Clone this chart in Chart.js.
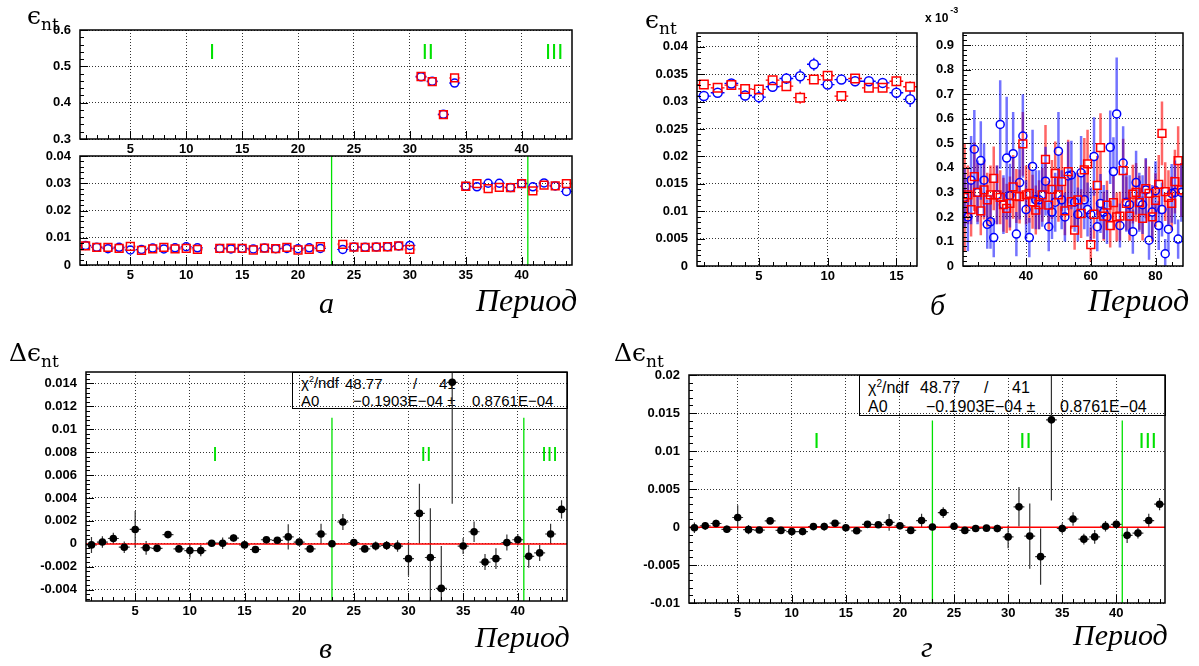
<!DOCTYPE html>
<html>
<head>
<meta charset="utf-8">
<script src="https://cdn.jsdelivr.net/npm/chart.js@4"></script>
<style>
  body { margin: 0; background: #fff; }
  #wrap { position: relative; width: 1199px; height: 666px; overflow: hidden; }
  canvas { position: absolute; left: 0; top: 0; }
  .t { position: absolute; color: #000; white-space: nowrap; line-height: 1; }
  .eps { font-family: "DejaVu Serif", "Liberation Serif", serif; font-size: 25px; }
  .eps .s { font-size: 17px; position: relative; top: 6px; }
  .per { font-family: "Liberation Serif", serif; font-style: italic; }
  .stat { position: absolute; border: 1.5px solid #000; box-sizing: border-box; font-family: "Liberation Sans", Arial, sans-serif; }
  .stat span { position: absolute; white-space: nowrap; line-height: 1; }
  .exp { font-family: "Liberation Sans", Arial, sans-serif; font-weight: bold; }
</style>
</head>
<body>
<div id="wrap">
  <div class="stat" style="left:292px;top:372px;width:276px;height:37px;font-size:15px">
    <span style="left:8px;top:2px">χ<sup style="font-size:9px">2</sup>/ndf</span>
    <span style="left:52px;top:3px">48.77</span>
    <span style="left:120px;top:3px">/</span>
    <span style="left:146px;top:3px">41</span>
    <span style="left:8px;top:20px">A0</span>
    <span style="left:60px;top:20px">−0.1903E−04 ±</span>
    <span style="left:179px;top:20px">0.8761E−04</span>
  </div>
  <div class="stat" style="left:859px;top:375px;width:307px;height:41px;font-size:16px">
    <span style="left:8px;top:3px">χ<sup style="font-size:10px">2</sup>/ndf</span>
    <span style="left:60px;top:4px">48.77</span>
    <span style="left:124px;top:4px">/</span>
    <span style="left:152px;top:4px">41</span>
    <span style="left:8px;top:23px">A0</span>
    <span style="left:66px;top:23px">−0.1903E−04 ±</span>
    <span style="left:200px;top:23px">0.8761E−04</span>
  </div>
  <canvas id="cA1" width="1199" height="666"></canvas>
  <canvas id="cA2" width="1199" height="666"></canvas>
  <canvas id="cB1" width="1199" height="666"></canvas>
  <canvas id="cB2" width="1199" height="666"></canvas>
  <canvas id="cC" width="1199" height="666"></canvas>
  <canvas id="cD" width="1199" height="666"></canvas>

  <div class="t eps" style="left:27px;top:3px">ϵ<span class="s">nt</span></div>
  <div class="t eps" style="left:645px;top:7px">ϵ<span class="s">nt</span></div>
  <div class="t eps" style="left:9px;top:340px">Δϵ<span class="s">nt</span></div>
  <div class="t eps" style="left:614px;top:340px">Δϵ<span class="s">nt</span></div>

  <div class="t exp" style="left:925px;top:12px;font-size:12px">x 10<span style="font-size:9px;position:relative;top:-9px;margin-left:2px">-3</span></div>

  <div class="t per" style="left:476px;top:284px;font-size:32px">Период</div>
  <div class="t per" style="left:1088px;top:284px;font-size:32px">Период</div>
  <div class="t per" style="left:475px;top:622px;font-size:30px">Период</div>
  <div class="t per" style="left:1073px;top:620px;font-size:30px">Период</div>

  <div class="t per" style="left:319px;top:288px;font-size:30px">а</div>
  <div class="t per" style="left:930px;top:290px;font-size:30px">б</div>
  <div class="t per" style="left:319px;top:633px;font-size:30px">в</div>
  <div class="t per" style="left:921px;top:632px;font-size:30px">г</div>
</div>

<script>
// ---- data ----
const periods44 = [1,2,3,4,5,6,7,8,9,10,11,12,13,14,15,16,17,18,19,20,21,22,23,24,25,26,27,28,29,30,31,32,33,34,35,36,37,38,39,40,41,42,43,44];
const periodsB1 = [1,2,3,4,5,6,7,8,9,10,11,12,13,14,15,16];
const periodsB2 = [21,22,23,24,25,26,27,28,29,30,31,32,33,34,35,36,37,38,39,40,41,42,43,44,45,46,47,48,49,50,51,52,53,54,55,56,57,58,59,60,61,62,63,64,65,66,67,68,69,70,71,72,73,74,75,76,77,78,79,80,81,82,83,84,85,86,87,88];

// panel a: efficiency per period (circles / squares)
const effACirc = [0.0072,0.0065,0.0060,0.0065,0.0055,0.0057,0.0062,0.0059,0.0063,0.0067,0.0063,null,0.0061,0.0059,0.0061,0.0059,0.0062,0.0060,0.0061,0.0060,0.0063,0.0061,null,0.0057,0.0066,0.0065,0.0066,0.0067,0.0070,0.0072,0.471,0.459,0.368,0.454,0.0289,0.0287,0.0300,0.0300,0.0284,0.0299,0.0287,0.0301,0.0290,0.0270];
const effASq   = [0.0070,0.0065,0.0065,0.0061,0.0068,0.0054,0.0059,0.0065,0.0059,0.0061,0.0057,null,0.0061,0.0062,0.0061,0.0055,0.0062,0.0060,0.0065,0.0055,0.0057,0.0067,null,0.0076,0.0066,0.0065,0.0066,0.0067,0.0070,0.0057,0.472,0.458,0.367,0.468,0.0289,0.0299,0.0280,0.0285,0.0284,0.0299,0.0272,0.0293,0.0290,0.0299];
const errACirc = [0.0003,0.0003,0.0003,0.0003,0.0003,0.0003,0.0003,0.0003,0.0003,0.0003,0.0003,0,0.0003,0.0003,0.0003,0.0003,0.0003,0.0003,0.0003,0.0003,0.0003,0.0003,0,0.0003,0.0003,0.0003,0.0003,0.0003,0.0003,0.0003,0.003,0.003,0.003,0.004,0.0005,0.0005,0.0005,0.0005,0.0005,0.0005,0.0005,0.0005,0.0005,0.0005];
const errASq   = [0.0003,0.0003,0.0003,0.0003,0.0003,0.0003,0.0003,0.0003,0.0003,0.0003,0.0003,0,0.0003,0.0003,0.0003,0.0003,0.0003,0.0003,0.0003,0.0003,0.0003,0.0003,0,0.0004,0.0003,0.0003,0.0003,0.0003,0.0003,0.0003,0.003,0.003,0.003,0.004,0.0005,0.0005,0.0005,0.0005,0.0005,0.0005,0.0005,0.0005,0.0005,0.0005];

// panel б, left part
const effB1Circ = [0.0310,0.0316,0.0333,0.0311,0.0308,0.0327,0.0342,0.0346,0.0368,0.0331,0.0340,0.0337,0.0337,0.0334,0.0316,0.0304];
const effB1Sq   = [0.0331,0.0325,0.0330,0.0323,0.0322,0.0339,0.0328,0.0307,0.0340,0.0347,0.0310,0.0342,0.0325,0.0325,0.0337,0.0327];
const errB1Circ = [0.0006,0.0008,0.0008,0.0009,0.0011,0.0009,0.0010,0.0013,0.0012,0.0008,0.0008,0.0009,0.0007,0.0008,0.0011,0.0014];
const errB1Sq   = [0.0007,0.0007,0.0006,0.0008,0.0008,0.0008,0.0009,0.0011,0.0008,0.0007,0.0004,0.0006,0.0006,0.0007,0.0009,0.0010];

// panel б, right part (units of 1e-3)
const effB2Circ = [0.28,0.20,0.35,0.476,0.30,0.43,0.35,0.17,0.18,0.116,
  0.29,0.577,0.25,0.44,0.287,0.458,0.13,0.34,0.53,0.23,
  0.116,0.406,0.27,0.27,0.29,0.346,0.16,0.22,0.26,0.468,
  0.27,0.20,0.367,0.371,0.26,0.21,0.38,0.27,0.23,0.21,
  0.446,0.16,0.255,0.22,0.20,0.484,0.385,0.62,0.165,0.42,
  0.26,0.25,0.14,0.34,0.26,0.25,0.31,0.105,0.22,0.307,
  0.165,0.23,0.05,0.15,0.296,0.30,0.11,0.30];
const errB2Circ = [0.12,0.14,0.18,0.16,0.13,0.16,0.15,0.10,0.11,0.08,
  0.12,0.18,0.12,0.25,0.13,0.17,0.09,0.15,0.17,0.12,
  0.08,0.15,0.12,0.12,0.13,0.14,0.10,0.11,0.12,0.16,
  0.12,0.10,0.14,0.14,0.12,0.11,0.15,0.12,0.11,0.11,
  0.16,0.10,0.12,0.11,0.11,0.15,0.14,0.23,0.09,0.15,
  0.12,0.12,0.09,0.13,0.12,0.12,0.13,0.08,0.11,0.12,
  0.10,0.11,0.06,0.09,0.12,0.13,0.08,0.12];
const effB2Sq = [0.28,0.29,0.23,0.364,0.30,0.225,0.31,0.27,0.29,0.357,
  0.29,0.28,0.25,0.235,0.255,0.323,0.285,0.283,0.498,0.29,
  0.296,0.262,0.228,0.25,0.29,0.435,0.248,0.312,0.378,0.29,
  0.344,0.225,0.385,0.262,0.146,0.27,0.214,0.392,0.416,0.087,
  0.211,0.329,0.483,0.203,0.248,0.165,0.258,0.20,0.203,0.389,
  0.255,0.203,0.293,0.30,0.258,0.194,0.315,0.296,0.20,0.268,
  0.333,0.541,0.303,0.28,0.255,0.344,0.43,0.31];
const errB2Sq = [0.22,0.12,0.11,0.14,0.12,0.10,0.12,0.11,0.12,0.13,
  0.12,0.11,0.11,0.10,0.11,0.13,0.11,0.11,0.13,0.12,
  0.12,0.11,0.10,0.10,0.11,0.14,0.10,0.12,0.13,0.11,
  0.12,0.10,0.13,0.11,0.08,0.11,0.10,0.13,0.14,0.07,
  0.10,0.12,0.14,0.10,0.10,0.09,0.11,0.10,0.10,0.13,
  0.11,0.10,0.12,0.12,0.11,0.09,0.12,0.11,0.10,0.11,
  0.12,0.13,0.12,0.11,0.11,0.13,0.14,0.11];

// panels в and г: difference
const deltaEff = [-0.0001,0.00015,0.00046,-0.0003,0.00125,-0.00035,-0.0004,0.0008,-0.00045,-0.0006,-0.0006,0.00005,0.00005,0.0005,-0.0001,-0.0005,0.00035,0.0003,0.0006,0.00015,-0.00045,0.00085,0.0,0.0019,0.0001,-0.00045,-0.0002,-0.00015,-0.0002,-0.0013,0.00265,-0.0012,-0.0039,0.0141,-0.0002,0.00105,-0.0016,-0.0013,0.0001,0.00035,-0.0011,-0.0008,0.00085,0.003];
const deltaErr = [0.0007,0.0005,0.0005,0.0005,0.0016,0.0006,0.0003,0.0003,0.0003,0.0006,0.0005,0.0002,0.0005,0.0003,0.0003,0.0003,0.0002,0.0002,0.0011,0.0003,0.0003,0.0009,0.0001,0.0007,0.0003,0.0003,0.0004,0.0004,0.0005,0.0015,0.0026,0.0043,0.0037,0.0106,0.0007,0.0009,0.0007,0.0009,0.0007,0.0005,0.001,0.0007,0.0009,0.0008];
const fitA0 = -0.1903e-4;

// period boundaries and labels
const boundaries = [23, 40.55];
const romanText = ["I", "II", "III"];
const romanX = [12.3, 31.6, 42.9];

// tick labels
const ticksX44 = [5, 10, 15, 20, 25, 30, 35, 40];
const ticksA1Y = [0.3, 0.4, 0.5, 0.6];
const ticksA2Y = [0, 0.01, 0.02, 0.03, 0.04];
const ticksB1X = [5, 10, 15];
const ticksB1Y = [0, 0.005, 0.01, 0.015, 0.02, 0.025, 0.03, 0.035, 0.04];
const ticksB2X = [40, 60, 80];
const ticksB2Y = [0, 0.1, 0.2, 0.3, 0.4, 0.5, 0.6, 0.7, 0.8, 0.9];
const ticksCY = [-0.004, -0.002, 0, 0.002, 0.004, 0.006, 0.008, 0.01, 0.012, 0.014];
const ticksDY = [-0.01, -0.005, 0, 0.005, 0.01, 0.015, 0.02];

const GREEN = "rgb(0,225,0)";

// ---- plugins ----
const errorBars = {
  id: "errorBars",
  beforeDatasetsDraw(chart) {
    const { ctx, chartArea: a, scales: { x, y } } = chart;
    ctx.save();
    ctx.beginPath();
    ctx.rect(a.left, a.top, a.width, a.height);
    ctx.clip();
    chart.data.datasets.forEach(ds => {
      if (!ds.errY) return;
      ctx.strokeStyle = ds.errColor;
      ctx.lineWidth = ds.errWidth;
      ctx.beginPath();
      ds.data.forEach((p, i) => {
        if (p.y == null) return;
        const px = x.getPixelForValue(p.x), py = y.getPixelForValue(p.y);
        const gap = ds.errGap;
        const top = y.getPixelForValue(p.y + ds.errY[i]);
        const bot = y.getPixelForValue(p.y - ds.errY[i]);
        const l = x.getPixelForValue(p.x - ds.errX);
        const r = x.getPixelForValue(p.x + ds.errX);
        if (py - top > gap) { ctx.moveTo(px, top); ctx.lineTo(px, py - gap); }
        if (bot - py > gap) { ctx.moveTo(px, py + gap); ctx.lineTo(px, bot); }
        if (px - l > gap) { ctx.moveTo(l, py); ctx.lineTo(px - gap, py); }
        if (r - px > gap) { ctx.moveTo(px + gap, py); ctx.lineTo(r, py); }
      });
      ctx.stroke();
    });
    ctx.restore();
  }
};

const marks = {
  id: "marks",
  beforeDatasetsDraw(chart, args, opts) {
    const { ctx, chartArea: a, scales: { x, y } } = chart;
    ctx.save();
    if (opts.lines) {
      ctx.strokeStyle = GREEN;
      ctx.lineWidth = 1.3;
      ctx.beginPath();
      opts.lines.forEach(v => {
        const px = x.getPixelForValue(v);
        const top = opts.lineTop == null ? a.top : y.getPixelForValue(opts.lineTop);
        ctx.moveTo(px, top);
        ctx.lineTo(px, a.bottom);
      });
      ctx.stroke();
    }
    if (opts.roman) {
      ctx.fillStyle = GREEN;
      ctx.font = opts.romanSize + "px 'Liberation Sans', Arial, sans-serif";
      ctx.textAlign = "center";
      ctx.textBaseline = "middle";
      romanText.forEach((t, i) => {
        ctx.fillText(t, x.getPixelForValue(romanX[i]), y.getPixelForValue(opts.romanY));
      });
    }
    ctx.restore();
  }
};

const rootFrame = {
  id: "rootFrame",
  afterDraw(chart, args, opts) {
    const { ctx, chartArea: a, scales: { x, y } } = chart;
    ctx.save();
    ctx.strokeStyle = "#000";
    ctx.lineWidth = 1;
    ctx.beginPath();
    const isMajor = (s, v) => s.ticks.some(t => Math.abs(t.value - v) < 1e-9);
    for (let n = Math.ceil(x.min / opts.xMinor - 1e-9); n * opts.xMinor <= x.max + 1e-9; n++) {
      const v = n * opts.xMinor;
      const px = Math.round(x.getPixelForValue(v)) + 0.5;
      ctx.moveTo(px, a.bottom);
      ctx.lineTo(px, a.bottom - (isMajor(x, v) ? 8 : 4));
    }
    for (let n = Math.ceil(y.min / opts.yMinor - 1e-9); n * opts.yMinor <= y.max + 1e-9; n++) {
      const v = n * opts.yMinor;
      const py = Math.round(y.getPixelForValue(v)) + 0.5;
      ctx.moveTo(a.left, py);
      ctx.lineTo(a.left + (isMajor(y, v) ? 8 : 4), py);
    }
    ctx.stroke();
    ctx.lineWidth = 1.5;
    ctx.strokeRect(a.left, a.top, a.width, a.height);
    ctx.restore();
  }
};

// ---- helpers ----
function axis(pos, min, max, ticks, size) {
  return {
    type: "linear",
    position: pos,
    min: min,
    max: max,
    afterBuildTicks: s => { s.ticks = ticks.map(v => ({ value: v })); },
    afterFit: s => { if (pos === "left") s.width = size; else s.height = size; },
    grid: { color: "rgba(0,0,0,0.8)", lineWidth: 1, drawTicks: false },
    border: { display: false, dash: [1, 2] },
    ticks: {
      padding: pos === "left" ? 9 : 3,
      color: "#000",
      autoSkip: false,
      maxRotation: 0,
      font: { family: "'Liberation Sans', Arial, sans-serif", weight: "bold", size: 13 },
      callback: v => String(v)
    }
  };
}

function pts(xs, ys) {
  return xs.map((p, i) => ({ x: p, y: ys[i] }));
}

function circles(xs, ys, errs, color, errColor, r, errW) {
  return {
    data: pts(xs, ys), pointStyle: "circle", pointRadius: r, borderColor: color,
    backgroundColor: "rgba(0,0,0,0)", pointBorderWidth: 1.5,
    errY: errs, errX: 0.5, errColor: errColor, errWidth: errW, errGap: r
  };
}

function squares(xs, ys, errs, color, errColor, r, errW) {
  return {
    data: pts(xs, ys), pointStyle: "rect", pointRadius: r, borderColor: color,
    backgroundColor: "rgba(0,0,0,0)", pointBorderWidth: 1.5,
    errY: errs, errX: 0.5, errColor: errColor, errWidth: errW, errGap: r * 0.72
  };
}

function makeChart(id, datasets, xAx, yAx, pad, plug) {
  return new Chart(document.getElementById(id), {
    type: "scatter",
    data: { datasets: datasets },
    options: {
      responsive: false,
      animation: false,
      devicePixelRatio: 1,
      layout: { padding: pad },
      plugins: Object.assign({ legend: { display: false }, tooltip: { enabled: false } }, plug),
      scales: { x: xAx, y: yAx }
    },
    plugins: [errorBars, marks, rootFrame]
  });
}

function fitLine(x0, x1) {
  return {
    type: "line", data: [{ x: x0, y: fitA0 }, { x: x1, y: fitA0 }],
    borderColor: "#f00", borderWidth: 1.5, pointRadius: 0, showLine: true
  };
}

function diffPoints() {
  return {
    data: pts(periods44, deltaEff), pointStyle: "circle", pointRadius: 3.8,
    backgroundColor: "#000", borderColor: "#000", pointBorderWidth: 0,
    errY: deltaErr, errX: 0.5, errColor: "#333", errWidth: 1.2, errGap: 0
  };
}

// ---- panel а (top and bottom) ----
makeChart("cA1",
  [squares(periods44, effASq, errASq, "#f00", "rgba(255,60,60,0.55)", 5.5, 2),
   circles(periods44, effACirc, errACirc, "#00f", "#00f", 4, 1)],
  axis("bottom", 0.5, 44.5, ticksX44, 20),
  axis("left", 0.3, 0.6, ticksA1Y, 45),
  { left: 35, top: 30, right: 627, bottom: 507 },
  { marks: { roman: true, romanY: 0.538, romanSize: 22 }, rootFrame: { xMinor: 1, yMinor: 0.02 } });

makeChart("cA2",
  [squares(periods44, effASq, errASq, "#f00", "rgba(255,60,60,0.55)", 5.5, 2),
   circles(periods44, effACirc, errACirc, "#00f", "#00f", 4, 1)],
  axis("bottom", 0.5, 44.5, ticksX44, 20),
  axis("left", 0, 0.04, ticksA2Y, 45),
  { left: 35, top: 156, right: 627, bottom: 381 },
  { marks: { lines: boundaries, lineTop: null }, rootFrame: { xMinor: 1, yMinor: 0.002 } });

// ---- panel б ----
makeChart("cB1",
  [squares(periodsB1, effB1Sq, errB1Sq, "#f00", "#f00", 6, 1.3),
   circles(periodsB1, effB1Circ, errB1Circ, "#00f", "#00f", 4.5, 1.3)],
  axis("bottom", 0.5, 16.5, ticksB1X, 20),
  axis("left", 0, 0.0425, ticksB1Y, 50),
  { left: 647, top: 33, right: 282, bottom: 380 },
  { marks: {}, rootFrame: { xMinor: 1, yMinor: 0.001 } });

makeChart("cB2",
  [squares(periodsB2, effB2Sq, errB2Sq, "#f00", "rgba(255,0,0,0.6)", 5.5, 2.5),
   circles(periodsB2, effB2Circ, errB2Circ, "#00f", "rgba(0,0,255,0.55)", 4, 2.5)],
  axis("bottom", 20.5, 88.5, ticksB2X, 20),
  axis("left", 0, 0.95, ticksB2Y, 40),
  { left: 923, top: 33, right: 16, bottom: 380 },
  { marks: {}, rootFrame: { xMinor: 5, yMinor: 0.02 } });

// ---- panels в and г ----
makeChart("cC",
  [diffPoints(), fitLine(0.5, 44.5)],
  axis("bottom", 0.5, 44.5, ticksX44, 20),
  axis("left", -0.005, 0.015, ticksCY, 50),
  { left: 36, top: 372, right: 632, bottom: 45 },
  { marks: { lines: boundaries, lineTop: 0.011, roman: true, romanY: 0.0077, romanSize: 20 }, rootFrame: { xMinor: 1, yMinor: 0.0004 } });

makeChart("cD",
  [diffPoints(), fitLine(0.5, 44.5)],
  axis("bottom", 0.5, 44.5, ticksX44, 20),
  axis("left", -0.01, 0.02, ticksDY, 50),
  { left: 639, top: 375, right: 34, bottom: 43 },
  { marks: { lines: boundaries, lineTop: 0.014, roman: true, romanY: 0.0112, romanSize: 22 }, rootFrame: { xMinor: 1, yMinor: 0.001 } });
</script>
</body>
</html>
